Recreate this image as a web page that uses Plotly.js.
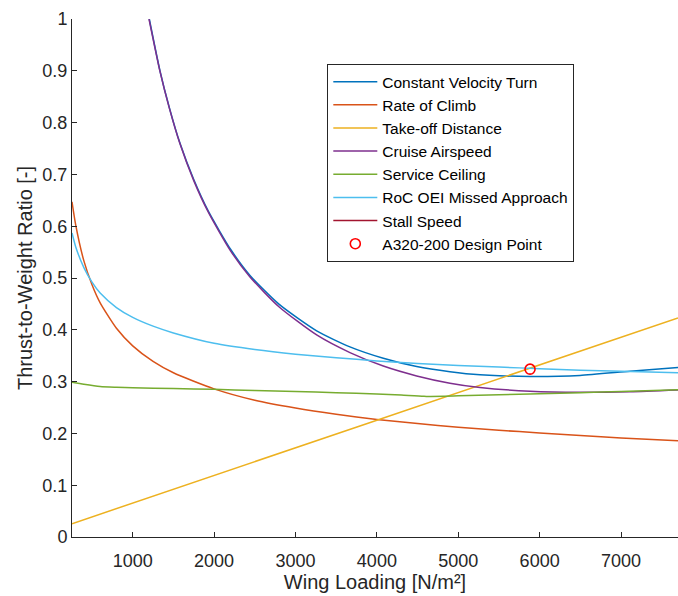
<!DOCTYPE html>
<html>
<head>
<meta charset="utf-8">
<script src="https://cdn.plot.ly/plotly-3.0.1.min.js"></script>
<style>
html,body{margin:0;padding:0;background:#fff;overflow:hidden;}
#chart{width:678px;height:596px;}
</style>
</head>
<body>
<div id="chart"></div>
<script>
// Wing loading grid for the RoC / OEI / ceiling curves [N/m^2]
const wsGrid = [254, 300, 400, 500, 600, 800, 1000, 1250, 1500, 2000, 2500, 3000, 3500, 4000, 4500, 5000, 5500, 6000, 6500, 7000, 7700];
const rateOfClimb = [0.647, 0.602, 0.533, 0.487, 0.452, 0.403, 0.369, 0.339, 0.317, 0.286, 0.264, 0.249, 0.237, 0.227, 0.219, 0.212, 0.206, 0.201, 0.196, 0.191, 0.186];
const rocOEI = [0.587, 0.560, 0.520, 0.492, 0.471, 0.443, 0.424, 0.407, 0.394, 0.374, 0.362, 0.353, 0.346, 0.340, 0.335, 0.331, 0.328, 0.325, 0.322, 0.320, 0.317];

const ceilingWS = [254, 400, 600, 800, 1000, 1500, 2000, 2500, 3000, 3500, 4000, 4300, 4580, 5000, 5500, 6000, 6500, 7000, 7700];
const serviceCeiling = [0.299, 0.295, 0.2905, 0.289, 0.288, 0.2865, 0.285, 0.283, 0.281, 0.2785, 0.276, 0.274, 0.2715, 0.2725, 0.2745, 0.2765, 0.2785, 0.281, 0.2845];

const takeoffWS = [254, 4000, 7700];
const takeoff = [0.0257, 0.2255, 0.423];

const cruiseWS = [1200, 1335, 1450, 1581, 1750, 1929, 2200, 2441, 2800, 3260, 3669, 4079, 4489, 4898, 5267, 5882, 6496, 7110, 7700];
const cruise = [1.0, 0.899, 0.828, 0.759, 0.688, 0.627, 0.553, 0.502, 0.444, 0.390, 0.356, 0.330, 0.311, 0.297, 0.2886, 0.2814, 0.2794, 0.2806, 0.284];

const turnWS = [1204, 1335, 1450, 1581, 1750, 1929, 2200, 2441, 2800, 3260, 3669, 4079, 4489, 4898, 5267, 5882, 6496, 7110, 7700];
const turn = [1.0, 0.900, 0.829, 0.760, 0.690, 0.629, 0.556, 0.505, 0.449, 0.398, 0.367, 0.345, 0.329, 0.319, 0.313, 0.310, 0.312, 0.320, 0.327];

// Stall speed limit lies beyond the visible wing-loading range
const stallWS = [7950, 7950];
const stallTW = [0, 1];

const designWS = [5882];
const designTW = [0.324];

const names = ['Constant Velocity Turn', 'Rate of Climb', 'Take-off Distance', 'Cruise Airspeed', 'Service Ceiling', 'RoC OEI Missed Approach', 'Stall Speed', 'A320-200 Design Point'];
const colors = ['#0072BD', '#D95319', '#EDB120', '#7E2F8E', '#77AC30', '#4DBEEE', '#A2142F', '#FF0000'];

const lw = 1.5;
const traces = [
  {x: turnWS, y: turn},
  {x: wsGrid, y: rateOfClimb},
  {x: takeoffWS, y: takeoff},
  {x: cruiseWS, y: cruise},
  {x: ceilingWS, y: serviceCeiling},
  {x: wsGrid, y: rocOEI},
  {x: stallWS, y: stallTW}
].map((t, i) => ({
  x: t.x, y: t.y, name: names[i], type: 'scatter', mode: 'lines',
  line: {color: colors[i], width: lw, shape: 'spline', smoothing: 0.6}
}));
traces.push({
  x: designWS, y: designTW, name: names[7], type: 'scatter', mode: 'markers',
  marker: {symbol: 'circle-open', size: 10, color: colors[7], line: {width: 1.6, color: colors[7]}},
  cliponaxis: false
});

const axisCommon = {
  showline: true, linecolor: '#262626', linewidth: 1,
  ticks: 'inside', ticklen: 5, tickwidth: 1, tickcolor: '#262626',
  showgrid: false, zeroline: false, mirror: false,
  tickfont: {size: 18, color: '#262626'}
};

const layout = {
  width: 678, height: 596,
  margin: {l: 72, r: 0, t: 19, b: 59},
  paper_bgcolor: '#fff', plot_bgcolor: '#fff',
  font: {family: '"Liberation Sans", Arial, sans-serif', color: '#262626'},
  showlegend: true,
  xaxis: Object.assign({}, axisCommon, {
    range: [254, 7700], tick0: 0, dtick: 1000,
    ticklabelstandoff: 7,
    title: {text: 'Wing Loading [N/m²]', font: {size: 20, color: '#262626'}, standoff: 4}
  }),
  yaxis: Object.assign({}, axisCommon, {
    range: [0, 1], tick0: 0, dtick: 0.1,
    title: {text: 'Thrust-to-Weight Ratio [-]', font: {size: 20, color: '#262626'}, standoff: 4}
  }),
  legend: {
    x: 0.4213, y: 0.913, xanchor: 'left', yanchor: 'top',
    bgcolor: '#fff', bordercolor: '#262626', borderwidth: 1,
    font: {size: 15.5, color: '#000'},
    itemwidth: 44,
    entrywidth: 208
  }
};

Plotly.newPlot('chart', traces, layout, {displayModeBar: false, staticPlot: true});
</script>
</body>
</html>
